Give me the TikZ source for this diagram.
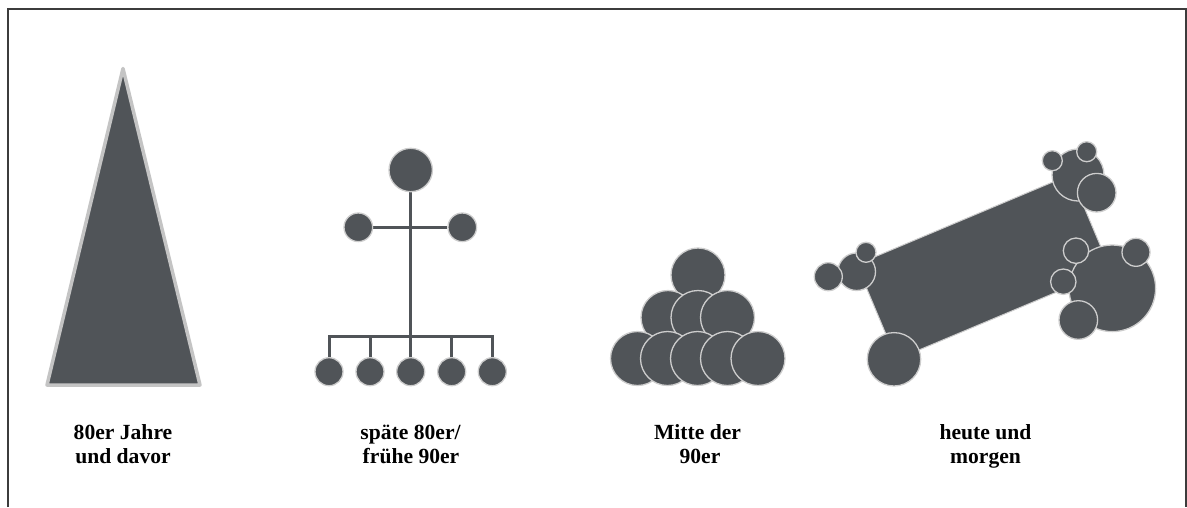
\documentclass[tikz,border=0pt]{standalone}
\usepackage{fontspec}
\setmainfont{Liberation Serif}
\usetikzlibrary{backgrounds}
\definecolor{shapefill}{HTML}{505458}
\definecolor{rim}{HTML}{CDCDCD}
\definecolor{tririm}{HTML}{C4C4C4}
\definecolor{framecol}{HTML}{3C3C3C}
\begin{document}
\begin{tikzpicture}[x=1pt,y=-1pt,
  blob/.style={circle,fill=shapefill,draw=rim,line width=1.3pt,inner sep=0pt,minimum size=2*#1},
  treeline/.style={draw=shapefill,line width=3pt},
  framel/.style={draw=framecol,line width=1.5pt},
  lab/.style={font=\bfseries\fontsize{21.6}{24}\selectfont,anchor=base,inner sep=0pt}]
\useasboundingbox (0,0) rectangle (1187,507);
% frame
\draw[framel] (8,507) -- (8,9) -- (1186,9) -- (1186,507);

% 1: triangle
\coordinate (apex) at (123,68.5);
\coordinate (bl) at (47,385);
\coordinate (br) at (200,385);
\filldraw[fill=shapefill,draw=tririm,line width=3.5pt,line join=round] (apex) -- (br) -- (bl) -- cycle;

% 2: tree
\node[blob=21.7] (t0) at (410.7,170) {};
\node[blob=14.3] (tl) at (358.3,227.3) {};
\node[blob=14.3] (tr) at (462.3,227.3) {};
\coordinate (bar) at (410.7,336.7);
\node[blob=14] (b1) at (329,371.7) {};
\node[blob=14] (b2) at (370,371.7) {};
\node[blob=14] (b3) at (410.7,371.7) {};
\node[blob=14] (b4) at (451.7,371.7) {};
\node[blob=14] (b5) at (492.3,371.7) {};
\begin{scope}[on background layer]
  \draw[treeline] (tl) -- (tr);
  \draw[treeline] (t0) -- (bar);
  \draw[treeline,line join=miter] (b1) -- (b1 |- bar) -- (b5 |- bar) -- (b5);
  \draw[treeline] (b2) -- (b2 |- bar);
  \draw[treeline] (b3) -- (b3 |- bar);
  \draw[treeline] (b4) -- (b4 |- bar);
\end{scope}

% 3: pyramid
\node[blob=27] (p0) at (698,275) {};
\node[blob=27] (p11) at (668,317.5) {};
\node[blob=27] (p12) at (698,317.5) {};
\node[blob=27] (p13) at (727.5,317.5) {};
\node[blob=27] (p21) at (637.5,358.5) {};
\node[blob=27] (p22) at (667.5,358.5) {};
\node[blob=27] (p23) at (697.5,358.5) {};
\node[blob=27] (p24) at (727.5,358.5) {};
\node[blob=27] (p25) at (758,358.5) {};

% 4: network
\node[rotate=22.8,minimum width=232pt,minimum height=103pt,inner sep=0pt,
      fill=shapefill,draw=rim,line width=1pt] (slab) at (983.5,267) {};
\node[blob=26.7] (n1) at (894,359.3) {};
\node[blob=18.8] (n2) at (856.7,271.7) {};
\node[blob=14] (n3) at (828.3,276.7) {};
\node[blob=10] (n4) at (866,252.3) {};
\node[blob=26] (n5) at (1078,175) {};
\node[blob=10] (n6) at (1052.3,160.7) {};
\node[blob=10] (n7) at (1086.7,151.7) {};
\node[blob=19.3] (n8) at (1096.7,192.7) {};
\node[blob=43.3] (n9) at (1112.3,288.3) {};
\node[blob=14] (n10) at (1136,252.3) {};
\node[blob=12.7] (n11) at (1076,250.7) {};
\node[blob=12.7] (n12) at (1063.3,281.7) {};
\node[blob=19.3] (n13) at (1078.3,320) {};

% labels
\node[lab] (l1a) at (123,439) {80er Jahre};
\node[lab] (l1b) at (123,463) {und davor};
\node[lab] (l2a) at (410.5,439) {späte 80er/};
\node[lab] (l2b) at (411,463) {frühe 90er};
\node[lab] (l3a) at (697.5,439) {Mitte der};
\node[lab] (l3b) at (700,463) {90er};
\node[lab] (l4a) at (985.5,439) {heute und};
\node[lab] (l4b) at (985.5,463) {morgen};
\end{tikzpicture}
\end{document}
